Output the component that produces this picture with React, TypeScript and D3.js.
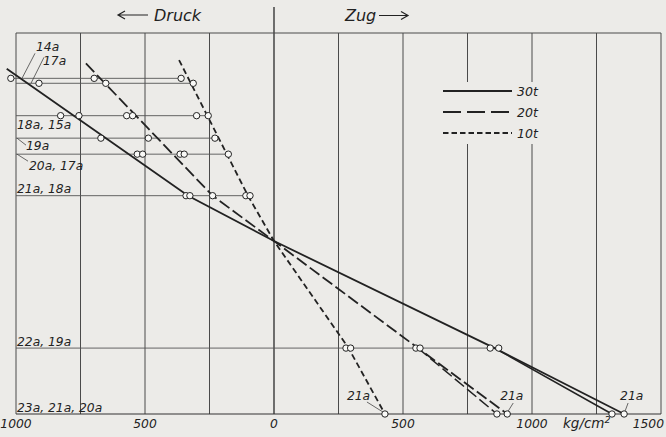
import * as d3 from 'd3';

const W = 666;
const H = 437;

// Messreihen: Höhenlage (0 = Unterkante, 100 = Oberkante) und Beschriftung
const rowLevels = [88.1, 86.8, 78.3, 72.4, 68.2, 57.3, 17.3, 0];
const rowLabels = ['14a', '17a', '18a, 15a', '19a', '20a, 17a', '21a, 18a', '22a, 19a', '23a, 21a, 20a'];

// gemessene Spannungen in kg/cm² (negativ = Druck), je Reihe
const pts30 = [[-1020], [-911], [-827, -756], [-671], [-530, -509], [-341, -326], [838, 871], [1310, 1357]];
const pts20 = [[-697], [-652], [-571, -548], [-487], [-364, -348], [-238], [550, 566], [864, 904]];
const pts10 = [[-360], [-313], [-300, -255], [-229], [-177], [-109, -93], [279, 297], [430]];

// Spannungslinien [Spannung, Höhe]
const line30 = [[-1036, 90.6], [-333, 57.3], [0, 45.4], [855, 17.3], [1357, 0]];
const line20 = [[-729, 92.0], [-238, 57.3], [0, 45.4], [558, 17.3], [904, 0]];
const line10 = [[-368, 92.9], [-101, 57.3], [0, 45.4], [289, 17.3], [430, 0]];
const branch30 = [[855, 17.3], [1310, 0]];
const branch20 = [[558, 17.3], [864, 0]];

const loads = ['30t', '20t', '10t'];
const xTickLabels = [-1000, -500, 0, 500, 1000, 1500];

const bg = '#ecebe8';
const ink = '#222';
const font = '"DejaVu Sans", sans-serif';

const x = d3.scaleLinear().domain([-1000, 1500]).range([16, 661]);
const y = d3.scaleLinear().domain([0, 100]).range([414, 33]);
const line = d3.line<number[]>().x(d => x(d[0])).y(d => y(d[1]));

const dashes: Record<string, string | undefined> = { '30t': undefined, '20t': '12,4', '10t': '6,3.5' };
const legendDashes: Record<string, string | undefined> = { '30t': undefined, '20t': '18,6', '10t': '5.5,3' };

export default function App() {
  const all = [pts30, pts20, pts10];
  const grid = d3.range(-1000, 1501, 250);

  return (
    <svg width={W} height={H} style={{ position: 'absolute', left: 0, top: 0, background: bg }}
      fontFamily={font} fontStyle="italic" fill={ink}>
      <rect width={W} height={H} fill={bg} />

      {/* Gitter */}
      {grid.map(v => (
        <line key={v} x1={x(v)} x2={x(v)} y1={v === 0 ? 7 : y(100)} y2={y(0)}
          stroke={v === 0 ? '#2a2a2a' : '#4a4a4a'} strokeWidth={v === 0 ? 1.3 : 1} />
      ))}
      <line x1={x(-1000)} x2={x(1500)} y1={y(100)} y2={y(100)} stroke="#4a4a4a" strokeWidth={1} />
      <line x1={x(-1000)} x2={x(1500)} y1={y(0)} y2={y(0)} stroke="#333" strokeWidth={1.2} />

      {/* Reihenlinien */}
      {rowLevels.slice(0, 7).map((lv, i) => {
        const vals = all.flatMap(s => s[i]);
        const x0 = Math.min(x(-1000), x(d3.min(vals)!));
        return <line key={i} x1={x0} x2={x(d3.max(vals)!)} y1={y(lv)} y2={y(lv)} stroke="#555" strokeWidth={0.9} />;
      })}

      {/* Legende */}
      <rect x={440} y={82} width={106} height={62} fill={bg} />
      {loads.map((k, i) => (
        <g key={k} transform={`translate(0,${91 + i * 21})`}>
          <line x1={443} x2={512} stroke={ink} strokeWidth={1.8} strokeDasharray={legendDashes[k]} />
          <text x={517} y={4.5} fontSize={12.5}>{k}</text>
        </g>
      ))}

      {/* Spannungslinien */}
      {[line30, line20, line10].map((l, i) => (
        <path key={i} d={line(l)!} fill="none" stroke={ink} strokeWidth={1.8} strokeDasharray={dashes[loads[i]]} />
      ))}
      <path d={line(branch30)!} fill="none" stroke={ink} strokeWidth={1.5} />
      <path d={line(branch20)!} fill="none" stroke={ink} strokeWidth={1.5} strokeDasharray="12,4" />

      {/* Messpunkte */}
      {all.map((s, si) => s.map((vals, ri) => vals.map((v, k) => (
        <circle key={`${si}-${ri}-${k}`} cx={x(v)} cy={y(rowLevels[ri])} r={3.2}
          fill="#f9f9f7" stroke={ink} strokeWidth={1} />
      ))))}

      {/* Reihenbeschriftung */}
      <g fontSize={12.3}>
        <text x={36} y={y(rowLevels[0]) - 27}>{rowLabels[0]}</text>
        <line x1={35} y1={y(rowLevels[0]) - 25} x2={22} y2={y(rowLevels[0])} stroke="#444" strokeWidth={0.8} />
        <text x={43} y={y(rowLevels[1]) - 18}>{rowLabels[1]}</text>
        <line x1={44} y1={y(rowLevels[1]) - 26} x2={31} y2={y(rowLevels[1])} stroke="#444" strokeWidth={0.8} />
        <text x={17} y={y(rowLevels[2]) + 13}>{rowLabels[2]}</text>
        <text x={26} y={y(rowLevels[3]) + 12}>{rowLabels[3]}</text>
        <line x1={17} y1={y(rowLevels[3])} x2={26} y2={y(rowLevels[3]) + 7} stroke="#444" strokeWidth={0.8} />
        <text x={29} y={y(rowLevels[4]) + 16}>{rowLabels[4]}</text>
        <line x1={17} y1={y(rowLevels[4])} x2={28} y2={y(rowLevels[4]) + 7} stroke="#444" strokeWidth={0.8} />
        <text x={17} y={y(rowLevels[5]) - 3}>{rowLabels[5]}</text>
        <text x={17} y={y(rowLevels[6]) - 2}>{rowLabels[6]}</text>
        <text x={17} y={y(rowLevels[7]) - 2.5}>{rowLabels[7]}</text>
      </g>

      {/* 21a an der Unterkante */}
      <g fontSize={12.3}>
        <text x={x(430) - 38} y={y(0) - 14}>21a</text>
        <line x1={x(430) - 18} y1={y(0) - 12} x2={x(430) - 2} y2={y(0) - 2} stroke="#444" strokeWidth={0.8} />
        <text x={x(904) - 7} y={y(0) - 14}>21a</text>
        <line x1={x(904) + 6} y1={y(0) - 11} x2={x(904) + 1} y2={y(0) - 3} stroke="#444" strokeWidth={0.8} />
        <text x={x(1357) - 4} y={y(0) - 14}>21a</text>
        <line x1={x(1357) + 4} y1={y(0) - 11} x2={x(1357) + 1} y2={y(0) - 3} stroke="#444" strokeWidth={0.8} />
      </g>

      {/* Achsbeschriftung */}
      <g fontSize={12.3}>
        {xTickLabels.map(v => (
          <text key={v} x={v === 1500 ? 664 : x(v)} y={428} textAnchor={v === 1500 ? 'end' : 'middle'}>
            {Math.abs(v)}
          </text>
        ))}
        <text x={563} y={428} fontSize={13.5}>kg/cm<tspan fontSize={9.5} dy={-5}>2</tspan></text>
      </g>

      {/* Druck / Zug */}
      <g fontSize={16}>
        <path d="M118,15 H148 M125,11 L118,15 L125,19" fill="none" stroke={ink} strokeWidth={1.2} />
        <text x={154} y={20.5}>Druck</text>
        <text x={345} y={20.5}>Zug</text>
        <path d="M379,15.5 H408 M401,11.5 L408,15.5 L401,19.5" fill="none" stroke={ink} strokeWidth={1.2} />
      </g>
    </svg>
  );
}
